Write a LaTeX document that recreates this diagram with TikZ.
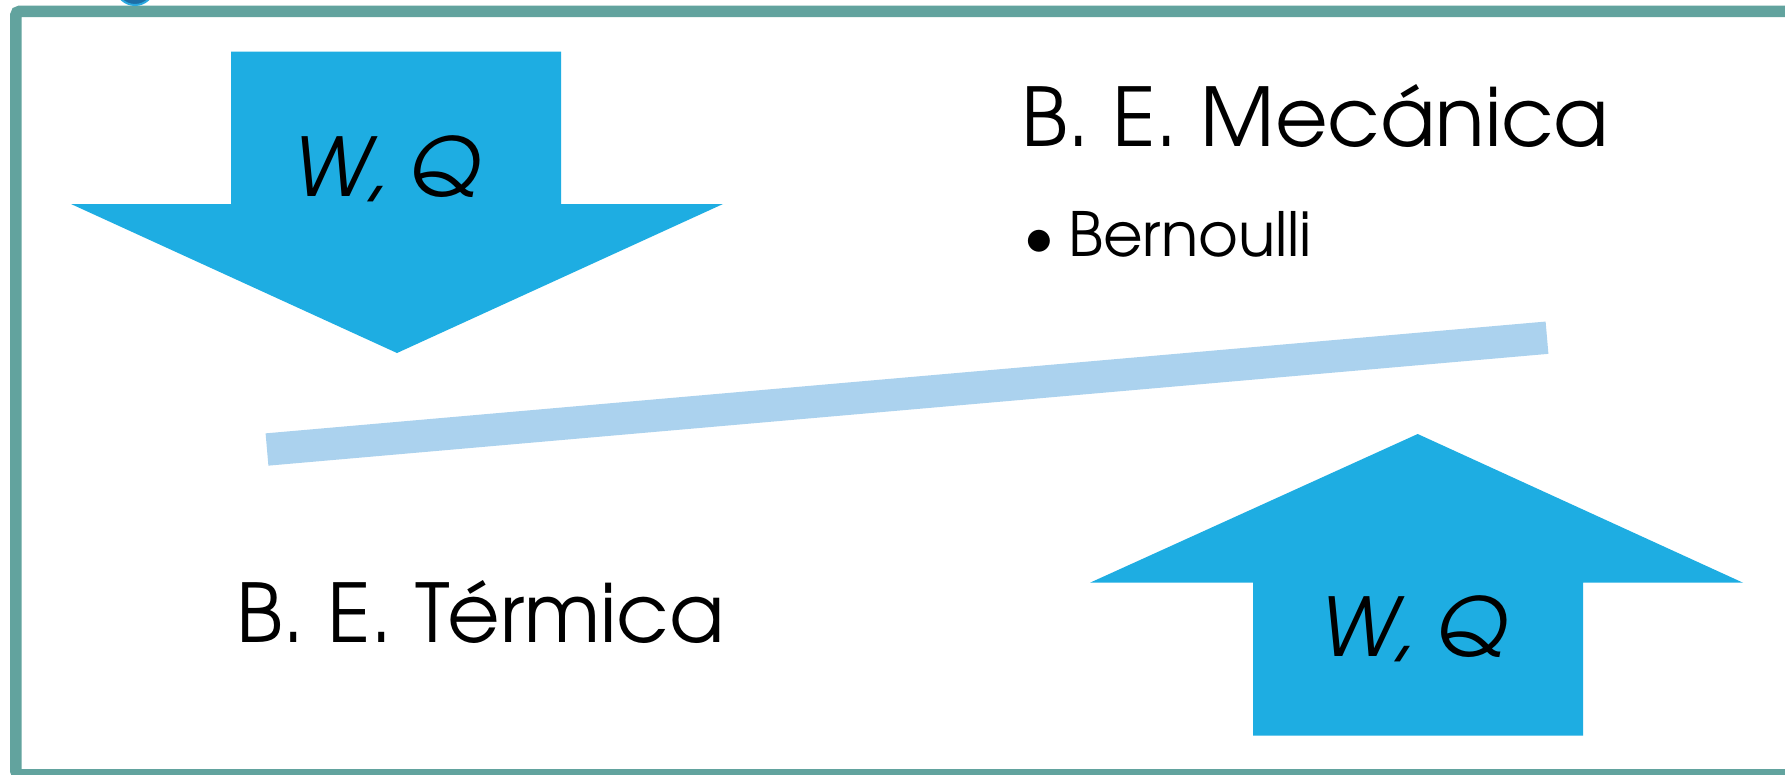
\documentclass[tikz,border=0pt]{standalone}
\usepackage{fontspec}
\setmainfont{TeX Gyre Adventor}
\definecolor{frameteal}{HTML}{62A39E}
\definecolor{arrowblue}{HTML}{1EADE2}
\definecolor{beamblue}{HTML}{ABD2EE}
\definecolor{dotdark}{HTML}{1D6EA6}
\definecolor{dotring}{HTML}{2AA8E0}
\tikzset{
  bigarrow/.style={fill=arrowblue, draw=none},
  beam/.style={draw=beamblue, line width=32.4pt, line cap=butt},
  frame/.style={draw=frameteal, line width=11.5pt, rounded corners=4pt},
  bigtext/.style={anchor=base west, inner sep=0pt, font=\fontsize{81}{97}\selectfont},
  smalltext/.style={anchor=base west, inner sep=0pt, font=\fontsize{61}{73}\selectfont},
}
\begin{document}
\begin{tikzpicture}[x=1pt,y=-1pt]
\useasboundingbox (0,0) rectangle (1785,774);
\clip (0,0) rectangle (1785,774);
\fill[white] (0,0) rectangle (1785,774);

% slide frame and the marker dot sitting on it
\draw[frame] (15.8,11.3) rectangle (1810,774.8);
\draw[fill=dotdark, draw=dotring, line width=2pt] (135,-14.4) circle (19.4);

% downward block arrow
\path[bigarrow] (231,51.6) -- (561,51.6) -- (561,204) -- (723,204)
  -- (397,353) -- (71,204) -- (231,204) -- cycle;
\node[bigtext] (wqdown) at (292,196.7) {\itshape W, Q};

% upward block arrow
\path[bigarrow] (1253,735.7) -- (1583,735.7) -- (1583,582.7) -- (1743,582.7)
  -- (1417.7,434) -- (1090,582.7) -- (1253,582.7) -- cycle;
\node[bigtext] (wqup) at (1319,656) {\itshape W, Q};

% tilted beam
\coordinate (beamL) at (267,449.5);
\coordinate (beamR) at (1547,337.7);
\draw[beam] (beamL) -- (beamR);

% labels
\node[bigtext] (mec) at (1021,146.7) {B. E. Mecánica};
\node[smalltext] (bern) at (1068,256.7) {Bernoulli};
\node[anchor=base, inner sep=0pt, font=\fontsize{61}{73}\selectfont] (bul) at (1039,256.7) {•};
\node[bigtext] (ter) at (236,642.7) {B. E. Térmica};
\end{tikzpicture}
\end{document}
